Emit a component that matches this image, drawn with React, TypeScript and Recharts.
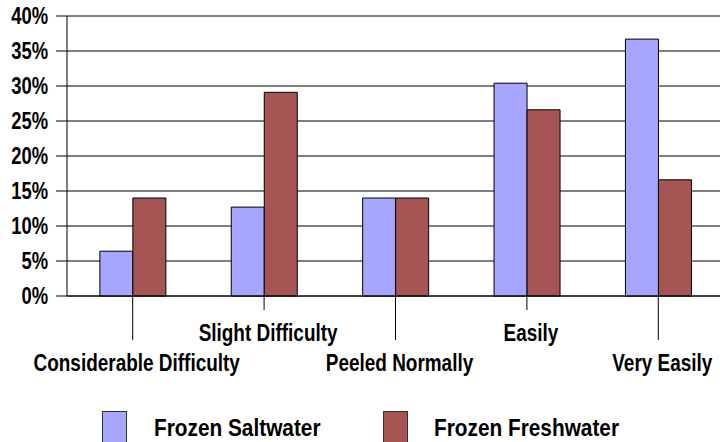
import { BarChart, Bar, XAxis, YAxis, CartesianGrid, Legend } from 'recharts';

const categories = ['Considerable Difficulty', 'Slight Difficulty', 'Peeled Normally', 'Easily', 'Very Easily'];
const saltwater = [6.4, 12.7, 14.0, 30.4, 36.7];
const freshwater = [14.0, 29.1, 14.0, 26.6, 16.6];
const yTicks = [0, 5, 10, 15, 20, 25, 30, 35, 40];
const seriesOrder = ['salt', 'fresh'];

const FONT = '"Liberation Sans", Arial, sans-serif';
const COLORS = {
    salt: '#A6A6FF',
    fresh: '#A65555',
};

const data = categories.map((name, i) => ({
    name,
    salt: saltwater[i],
    fresh: freshwater[i],
}));

const YTick = ({ x, y, payload }: any) => (
    <text
        transform={`translate(${x},${y + 8}) scale(0.8,1)`}
        textAnchor="end"
        fontFamily={FONT}
        fontWeight="bold"
        fontSize={23}
        fill="#000"
    >
        {`${payload.value}%`}
    </text>
);

const XTick = ({ x, y, payload, index }: any) => {
    const low = index % 2 === 0;
    const lineEnd = low ? 44 : 14;
    const baseline = low ? 75 : 45;
    return (
        <g>
            <line x1={x} x2={x} y1={y} y2={y + lineEnd} stroke="#000" strokeWidth={1} />
            <text
                transform={`translate(${x + 4},${y + baseline}) scale(0.79,1)`}
                textAnchor="middle"
                fontFamily={FONT}
                fontWeight="bold"
                fontSize={24}
                fill="#000"
            >
                {payload.value}
            </text>
        </g>
    );
};

const LegendContent = ({ payload }: any) => {
    const spots = [
        { box: 102, text: 154 },
        { box: 383, text: 434 },
    ];
    const items = [...(payload || [])].sort(
        (a: any, b: any) => seriesOrder.indexOf(a.dataKey) - seriesOrder.indexOf(b.dataKey)
    );
    return (
        <svg width={720} height={37} style={{ display: 'block' }}>
            {items.map((item: any, i: number) => (
                <g key={`legend-${i}`}>
                    <rect
                        x={spots[i].box + 0.5}
                        y={6.5}
                        width={24}
                        height={40}
                        fill={item.color}
                        stroke="#333"
                        strokeWidth={1}
                    />
                    <text
                        transform={`translate(${spots[i].text},31) scale(0.85,1)`}
                        fontFamily={FONT}
                        fontWeight="bold"
                        fontSize={24.5}
                        fill="#000"
                    >
                        {item.value}
                    </text>
                </g>
            ))}
        </svg>
    );
};

export default function App() {
    return (
        <div style={{ position: 'absolute', left: 0, top: 0, width: 720, height: 442, overflow: 'hidden', background: '#fff' }}>
            <BarChart
                width={724}
                height={442}
                data={data}
                margin={{ top: 16, right: 0, bottom: 116, left: 0 }}
                barCategoryGap="25%"
                barGap={0}
            >
                <CartesianGrid horizontal vertical={false} stroke="#000" strokeWidth={1} />
                <XAxis
                    dataKey="name"
                    height={30}
                    tickLine={false}
                    tickSize={0}
                    tickMargin={0}
                    axisLine={{ stroke: '#000' }}
                    tick={<XTick />}
                    interval={0}
                />
                <YAxis
                    width={67}
                    domain={[0, 40]}
                    ticks={yTicks}
                    interval={0}
                    tickSize={11}
                    tickMargin={8}
                    axisLine={{ stroke: '#000' }}
                    tickLine={{ stroke: '#000' }}
                    tick={<YTick />}
                />
                <Legend
                    layout="horizontal"
                    verticalAlign="middle"
                    align="center"
                    wrapperStyle={{ top: 405, left: 0, width: 720 }}
                    content={<LegendContent />}
                />
                <Bar dataKey="salt" name="Frozen Saltwater" fill={COLORS.salt} stroke="#000" strokeWidth={1} isAnimationActive={false} />
                <Bar dataKey="fresh" name="Frozen Freshwater" fill={COLORS.fresh} stroke="#000" strokeWidth={1} isAnimationActive={false} />
            </BarChart>
        </div>
    );
}
